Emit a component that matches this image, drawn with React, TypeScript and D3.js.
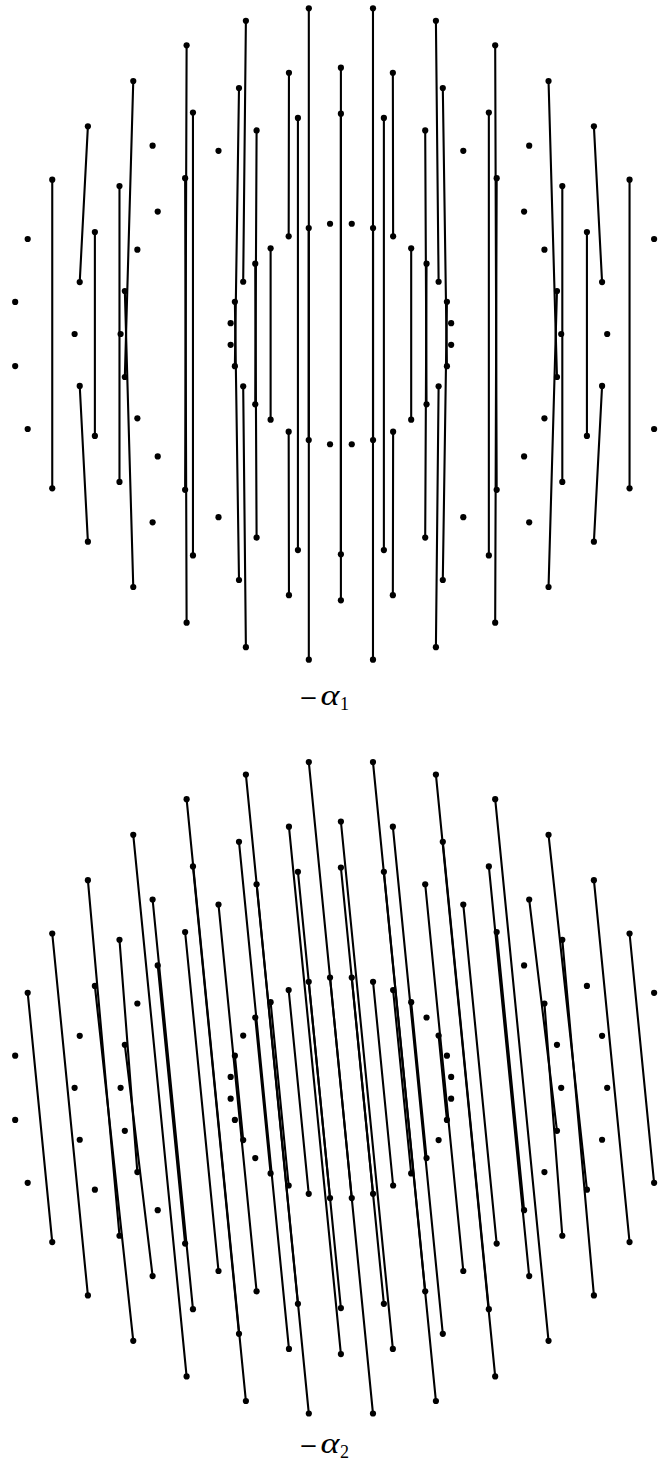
import React from "react";
import * as d3 from "d3";

// Point set: four concentric rings of 32 points (radius relative to the outer ring)
const ringIds = ["O", "A", "B", "C"];
const ringRadius = [1.0, 0.8136, 0.6731, 0.3385];
const halfStepAngles = [5.625, 16.875, 28.125, 39.375, 50.625, 61.875, 73.125, 84.375, 95.625, 106.875, 118.125, 129.375, 140.625, 151.875, 163.125, 174.375, 185.625, 196.875, 208.125, 219.375, 230.625, 241.875, 253.125, 264.375, 275.625, 286.875, 298.125, 309.375, 320.625, 331.875, 343.125, 354.375];
const wholeStepAngles = [0, 11.25, 22.5, 33.75, 45, 56.25, 67.5, 78.75, 90, 101.25, 112.5, 123.75, 135, 146.25, 157.5, 168.75, 180, 191.25, 202.5, 213.75, 225, 236.25, 247.5, 258.75, 270, 281.25, 292.5, 303.75, 315, 326.25, 337.5, 348.75];
const ringAngles: Record<string, number[]> = { O: halfStepAngles, A: wholeStepAngles, B: wholeStepAngles, C: halfStepAngles };

// Edges for -alpha_1 (top panel)
const edgesAlpha1: [string, string][] = [
  ["O0", "O15"], ["O1", "C5"], ["C10", "O14"], ["O2", "B12"], ["B4", "O13"], ["O3", "B9"], ["B7", "O12"],
  ["O4", "A7"], ["A9", "O11"], ["O5", "O10"], ["A1", "C2"], ["C13", "A15"], ["B1", "B15"], ["A2", "C9"],
  ["C6", "A14"], ["B2", "C11"], ["C4", "B14"], ["C3", "C12"], ["A3", "A13"], ["A5", "A11"], ["A6", "A10"],
  ["C1", "C14"], ["A0", "A16"], ["B0", "B16"],
  ["O31", "O16"], ["O30", "C26"], ["C21", "O17"], ["O29", "B20"], ["B28", "O18"], ["O28", "B23"], ["B25", "O19"],
  ["O27", "A25"], ["A23", "O20"], ["O26", "O21"], ["A31", "C29"], ["C18", "A17"], ["B31", "B17"], ["A30", "C22"],
  ["C25", "A18"], ["B30", "C20"], ["C27", "B18"], ["C28", "C19"], ["A29", "A19"], ["A27", "A21"], ["A26", "A22"],
  ["C30", "C17"],
];

// Edges for -alpha_2 (bottom panel)
const edgesAlpha2: [string, string][] = [
  ["O0", "O16"], ["C0", "C16"],
  ["O1", "O15"], ["B2", "B15"], ["C3", "C13"], ["O2", "O14"], ["A3", "A14"], ["O3", "O13"], ["O4", "A11"],
  ["A6", "O12"], ["O5", "O11"], ["O6", "O10"], ["A1", "A16"], ["B1", "B16"], ["C1", "C15"], ["A2", "A15"],
  ["C4", "C12"], ["B3", "B14"], ["C6", "C10"], ["C2", "C14"], ["B4", "B13"], ["A4", "A13"], ["B5", "B12"],
  ["A5", "B10"], ["B7", "A12"],
  ["O31", "O17"], ["B31", "B18"], ["C29", "C19"], ["O30", "O18"], ["A30", "A19"], ["O29", "O19"], ["O28", "A22"],
  ["A27", "O20"], ["O27", "O21"], ["O26", "O22"], ["A0", "A17"], ["B0", "B17"], ["C31", "C17"], ["A31", "A18"],
  ["C28", "C20"], ["B30", "B19"], ["C26", "C22"], ["C30", "C18"], ["B29", "B20"], ["A29", "A20"], ["B28", "B21"],
  ["A28", "B23"], ["B26", "A21"],
];

const panelLabels = ["1", "2"];

function dataPos(id: string): [number, number] {
  const ring = id[0];
  const k = +id.slice(1);
  const ri = ringIds.indexOf(ring);
  const ang = ringAngles[ring][k];
  const [px, py] = d3.pointRadial((-ang * Math.PI) / 180, ringRadius[ri]);
  return [px, -py];
}

const allIds: string[] = [];
ringIds.forEach((r) => ringAngles[r].forEach((_, k) => allIds.push(r + k)));

export default function App() {
  const W = 663, H = 1470;
  const R = 327.3, CX = 340.9;
  const panels = [
    { cy: 334, edges: edgesAlpha1, labelY: 705 },
    { cy: 1087.8, edges: edgesAlpha2, labelY: 1453 },
  ];
  const x = d3.scaleLinear().domain([-1, 1]).range([CX - R, CX + R]);
  return (
    <svg width={W} height={H} style={{ position: "absolute", left: 0, top: 0, background: "#fff" }}>
      {panels.map((p, pi) => {
        const y = d3.scaleLinear().domain([-1, 1]).range([p.cy + R, p.cy - R]);
        const P = (id: string) => {
          const [dx, dy] = dataPos(id);
          return [x(dx), y(dy)];
        };
        return (
          <g key={pi}>
            {p.edges.map(([a, b], i) => {
              const [x1, y1] = P(a);
              const [x2, y2] = P(b);
              return <line key={i} x1={x1} y1={y1} x2={x2} y2={y2} stroke="#000" strokeWidth={2.1} strokeLinecap="round" />;
            })}
            {allIds.map((id) => {
              const [cx, cy] = P(id);
              return <circle key={id} cx={cx} cy={cy} r={3.1} fill="#000" />;
            })}
            <text x={299} y={p.labelY} fontFamily="DejaVu Serif" fontSize={22} textLength={19} lengthAdjust="spacingAndGlyphs">−</text>
            <text x={320.5} y={p.labelY} fontFamily="Liberation Serif" fontStyle="italic" fontSize={29} textLength={19} lengthAdjust="spacingAndGlyphs">α</text>
            <text x={340} y={p.labelY + 5} fontFamily="Liberation Serif" fontSize={18}>{panelLabels[pi]}</text>
          </g>
        );
      })}
    </svg>
  );
}
